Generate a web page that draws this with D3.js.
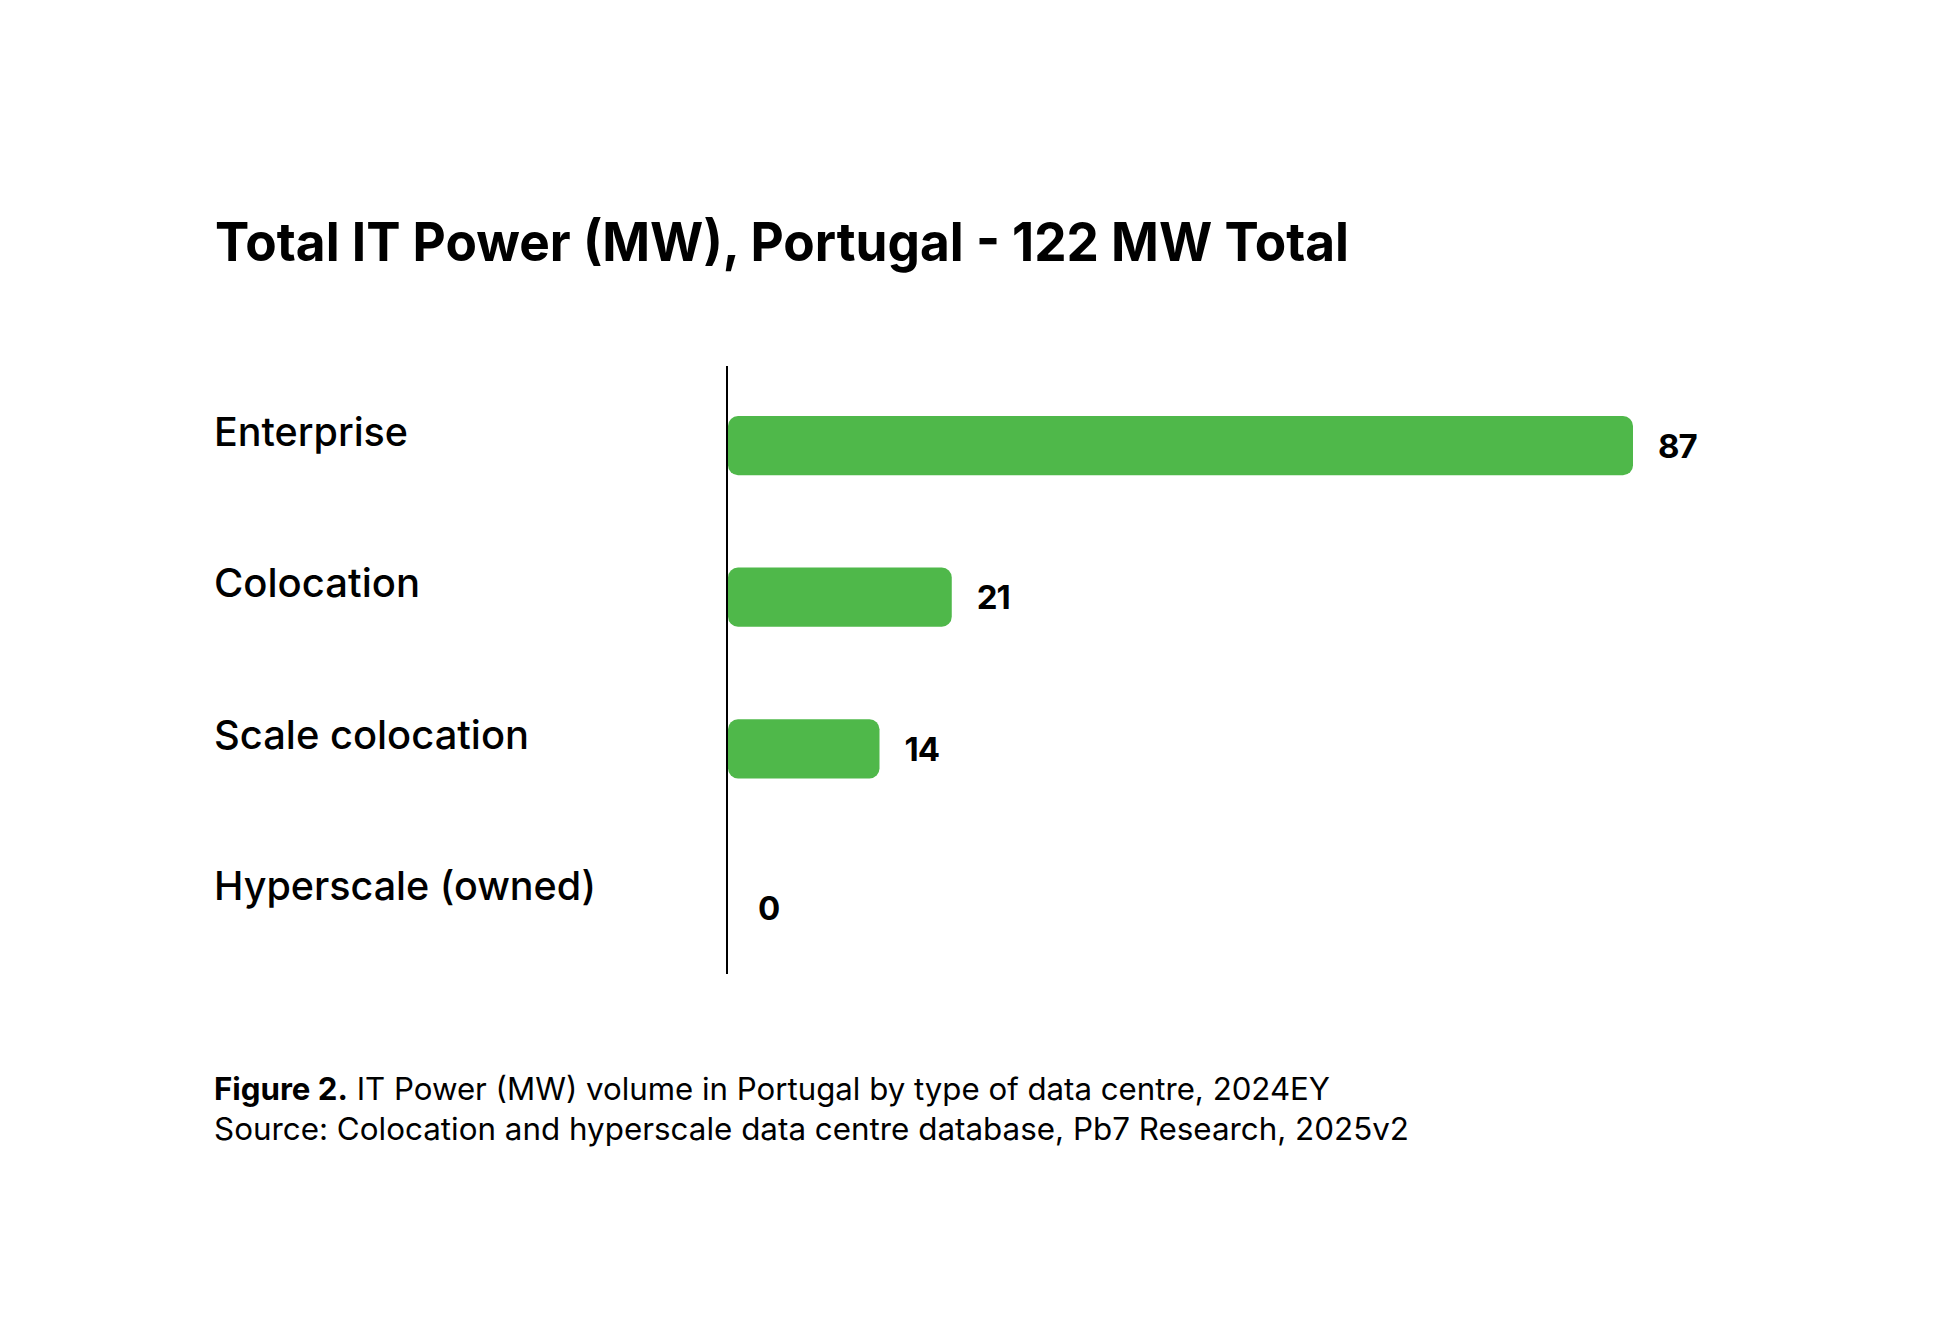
<!DOCTYPE html>
<html>
<head>
<meta charset="utf-8">
<script src="https://cdn.jsdelivr.net/npm/d3@7"></script>
<style>
  body { margin: 0; background: #ffffff; }
  text { font-family: Inter, "Noto Sans", sans-serif; fill: #000; }
</style>
</head>
<body>
<div id="chart"></div>
<script>
const categories = ["Enterprise", "Colocation", "Scale colocation", "Hyperscale (owned)"];
const values = [87, 21, 14, 0];
const titleText = "Total IT Power (MW), Portugal - 122 MW Total";
const captionBold = "Figure 2.";
const captionRest = " IT Power (MW) volume in Portugal by type of data centre, 2024EY";
const sourceText = "Source: Colocation and hyperscale data centre database, Pb7 Research, 2025v2";

const chartWidth = 1949;
const chartHeight = 1333;
const barColor = "#4fb84a";

const svg = d3.select("#chart")
              .append("svg")
              .attr("width", chartWidth)
              .attr("height", chartHeight);

// title
svg.append("text")
   .attr("x", 215)
   .attr("y", 261)
   .attr("font-size", 54)
   .attr("font-weight", 700)
   .attr("textLength", 1134)
   .attr("lengthAdjust", "spacingAndGlyphs")
   .text(titleText);

const axisX = 727;

// bars begin with a small stub past the axis, like the original
const xScale = d3.scaleLinear()
                 .domain([0, d3.max(values)])
                 .range([axisX + 8, 1633]);

const yScale = d3.scaleBand()
                 .domain(categories)
                 .range([416, 930])
                 .paddingInner(0.61)
                 .paddingOuter(0);

// bars
svg.selectAll("rect.bar")
   .data(values)
   .enter()
   .append("rect")
   .attr("class", "bar")
   .attr("x", axisX + 1)
   .attr("y", (d, i) => yScale(categories[i]))
   .attr("width", d => Math.max(0, xScale(d) - axisX - 1))
   .attr("height", yScale.bandwidth())
   .attr("rx", 10)
   .attr("ry", 10)
   .attr("fill", barColor)
   .style("display", d => d > 0 ? null : "none");

// value labels
svg.selectAll("text.value")
   .data(values)
   .enter()
   .append("text")
   .attr("class", "value")
   .attr("x", d => d > 0 ? xScale(d) + 25 : axisX + 31)
   .attr("y", (d, i) => yScale(categories[i]) + yScale.bandwidth() / 2 + (d > 0 ? 12 : 20))
   .attr("font-size", 33)
   .attr("font-weight", 700)
   .attr("letter-spacing", -1)
   .text(d => d);

// category labels
const labelWidths = [194, 206, 315, 382];
svg.selectAll("text.cat")
   .data(categories)
   .enter()
   .append("text")
   .attr("class", "cat")
   .attr("x", 214)
   .attr("y", d => yScale(d) + yScale.bandwidth() / 2)
   .attr("font-size", 40)
   .attr("font-weight", 500)
   .attr("textLength", (d, i) => labelWidths[i])
   .attr("lengthAdjust", "spacingAndGlyphs")
   .text(d => d);

// vertical axis line (no ticks)
const yAxis = d3.axisLeft(yScale).tickSize(0).tickFormat("");
svg.append("g")
   .attr("transform", "translate(" + axisX + ",0)")
   .call(yAxis)
   .call(g => g.select(".domain").attr("d", "M0,366V974").attr("stroke", "#000").attr("stroke-width", 2));

// caption
const cap = svg.append("text")
   .attr("x", 214)
   .attr("y", 1100)
   .attr("font-size", 31)
   .attr("textLength", 1116)
   .attr("lengthAdjust", "spacingAndGlyphs");
cap.append("tspan").attr("font-weight", 700).text(captionBold);
cap.append("tspan").text(captionRest);

svg.append("text")
   .attr("x", 214)
   .attr("y", 1140)
   .attr("font-size", 31)
   .attr("textLength", 1195)
   .attr("lengthAdjust", "spacingAndGlyphs")
   .text(sourceText);
</script>
</body>
</html>
